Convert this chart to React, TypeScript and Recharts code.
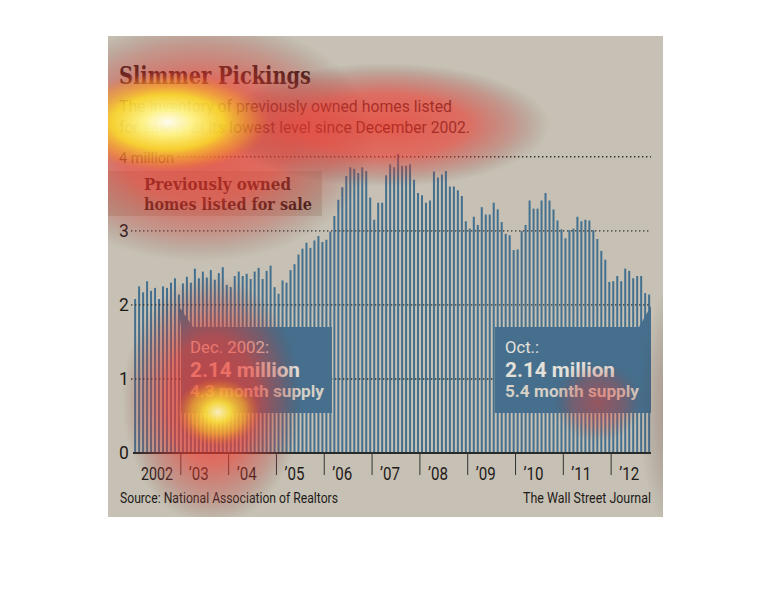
import React from 'react';
import { BarChart, Bar, XAxis, YAxis, ReferenceLine } from 'recharts';

// Previously owned homes listed for sale, millions, monthly Jan 2002 - Oct 2012
const inv2002 = [2.08, 2.25, 2.17, 2.32, 2.19, 2.23, 2.08, 2.25, 2.23, 2.3, 2.36, 2.14];
const inv2003 = [2.29, 2.38, 2.3, 2.49, 2.36, 2.45, 2.37, 2.47, 2.34, 2.43, 2.51, 2.27];
const inv2004 = [2.24, 2.39, 2.45, 2.39, 2.42, 2.35, 2.45, 2.5, 2.35, 2.46, 2.53, 2.24];
const inv2005 = [2.15, 2.33, 2.3, 2.47, 2.55, 2.68, 2.76, 2.84, 2.77, 2.87, 2.93, 2.85];
const inv2006 = [2.88, 2.99, 3.2, 3.42, 3.59, 3.74, 3.86, 3.84, 3.78, 3.86, 3.81, 3.45];
const inv2007 = [3.15, 3.38, 3.38, 3.75, 3.9, 3.86, 4.04, 3.88, 3.88, 3.9, 3.69, 3.51];
const inv2008 = [3.48, 3.38, 3.41, 3.8, 3.72, 3.76, 3.81, 3.6, 3.6, 3.55, 3.47, 3.13];
const inv2009 = [3.03, 3.19, 3.08, 3.32, 3.22, 3.22, 3.38, 3.29, 3.12, 2.96, 2.94, 2.74];
const inv2010 = [2.75, 3.0, 3.08, 3.41, 3.3, 3.3, 3.41, 3.51, 3.41, 3.29, 3.14, 3.02];
const inv2011 = [2.9, 3.01, 3.03, 3.19, 3.13, 3.15, 3.14, 3.01, 2.89, 2.73, 2.61, 2.31];
const inv2012 = [2.32, 2.39, 2.32, 2.49, 2.46, 2.36, 2.39, 2.39, 2.16, 2.14];

const years = [2002, 2003, 2004, 2005, 2006, 2007, 2008, 2009, 2010, 2011, 2012];
const yearLabels = ['2002', '’03', '’04', '’05', '’06', '’07', '’08', '’09', '’10', '’11', '’12'];
const byYear = [inv2002, inv2003, inv2004, inv2005, inv2006, inv2007, inv2008, inv2009, inv2010, inv2011, inv2012];

const yTicks = [0, 1, 2, 3, 4];
const yTickLabels = ['0', '1', '2', '3', '4 million'];

const data = years.flatMap((y, yi) =>
  byYear[yi].map((v, m) => ({ month: `${y}-${String(m + 1).padStart(2, '0')}`, value: v }))
);

const W = 770;
const H = 612;
const PLOT_LEFT = 133;
const PLOT_RIGHT = 651;
const AXIS_Y = 453;
const HALF_BAND = (PLOT_RIGHT - PLOT_LEFT) / data.length / 2;

const BAR = '#44708f';
const BOX = '#456f8d';
const INK = '#1f1b19';
const SANS = 'Roboto, "Noto Sans", sans-serif';
const SERIF = '"DejaVu Serif", serif';

function YearTick(props: any) {
  const { x, payload } = props;
  const yi = years.indexOf(Number(String(payload.value).slice(0, 4)));
  const left = x - HALF_BAND;
  return (
    <g>
      {yi > 0 && <line x1={left} y1={AXIS_Y} x2={left} y2={AXIS_Y + 22} stroke="#333" strokeWidth={1} />}
      <text
        x={left + 8}
        y={AXIS_Y + 27}
        fontFamily={SANS}
        fontSize={18.5}
        fill={INK}
        textLength={yi === 0 ? 32 : 20}
        lengthAdjust="spacingAndGlyphs"
      >
        {yearLabels[yi]}
      </text>
    </g>
  );
}

function ValueTick(props: any) {
  const { y, payload } = props;
  const i = yTicks.indexOf(payload.value);
  const isTop = i === yTicks.length - 1;
  return (
    <text
      x={119}
      y={y + 6}
      fontFamily={SANS}
      fontSize={isTop ? 15.5 : 17.5}
      fill={INK}
      textLength={isTop ? 55 : undefined}
      lengthAdjust="spacingAndGlyphs"
    >
      {yTickLabels[i]}
    </text>
  );
}

const dotted = { stroke: '#303030', strokeWidth: 1.4, strokeDasharray: '1.4 2.6' };

const gridShape = (startX?: number) => (p: any) => (
  <line x1={startX ?? p.x1 - 2} y1={p.y1} x2={p.x2} y2={p.y2} {...dotted} />
);

const heat = [
  { id: 'red', cx: 200, cy: 140, rx: 175, ry: 122 },
  { id: 'red', cx: 385, cy: 125, rx: 165, ry: 62 },
  { id: 'red', cx: 212, cy: 400, rx: 90, ry: 125 },
  { id: 'soft', cx: 598, cy: 402, rx: 45, ry: 40 },
  { id: 'dark', cx: 700, cy: 410, rx: 62, ry: 150 },
  { id: 'yellow', cx: 168, cy: 122, rx: 102, ry: 50 },
  { id: 'yellowSoft', cx: 218, cy: 412, rx: 42, ry: 34 },
];

function Overlay() {
  return (
    <svg width={W} height={H} style={{ position: 'absolute', left: 0, top: 0, pointerEvents: 'none' }}>
      <defs>
        <clipPath id="panel">
          <rect x={108} y={36} width={555} height={481} />
        </clipPath>
        <radialGradient id="red">
          <stop offset="0" stopColor="rgb(240,50,38)" stopOpacity={0.72} />
          <stop offset="0.5" stopColor="rgb(236,58,48)" stopOpacity={0.62} />
          <stop offset="0.78" stopColor="rgb(190,62,56)" stopOpacity={0.32} />
          <stop offset="1" stopColor="rgb(120,60,60)" stopOpacity={0} />
        </radialGradient>
        <radialGradient id="soft">
          <stop offset="0" stopColor="rgb(236,60,50)" stopOpacity={0.5} />
          <stop offset="0.6" stopColor="rgb(210,62,56)" stopOpacity={0.3} />
          <stop offset="1" stopColor="rgb(120,60,60)" stopOpacity={0} />
        </radialGradient>
        <radialGradient id="yellow">
          <stop offset="0" stopColor="rgb(255,255,245)" stopOpacity={0.97} />
          <stop offset="0.25" stopColor="rgb(255,253,140)" stopOpacity={0.93} />
          <stop offset="0.55" stopColor="rgb(252,234,40)" stopOpacity={0.8} />
          <stop offset="0.82" stopColor="rgb(248,170,40)" stopOpacity={0.42} />
          <stop offset="1" stopColor="rgb(240,120,40)" stopOpacity={0} />
        </radialGradient>
        <radialGradient id="yellowSoft">
          <stop offset="0" stopColor="rgb(255,255,200)" stopOpacity={0.9} />
          <stop offset="0.3" stopColor="rgb(255,245,60)" stopOpacity={0.82} />
          <stop offset="0.65" stopColor="rgb(250,200,40)" stopOpacity={0.55} />
          <stop offset="1" stopColor="rgb(240,120,40)" stopOpacity={0} />
        </radialGradient>
        <radialGradient id="dark">
          <stop offset="0" stopColor="rgb(130,50,50)" stopOpacity={0.6} />
          <stop offset="1" stopColor="rgb(80,50,50)" stopOpacity={0} />
        </radialGradient>
      </defs>

      <text x={119} y={84} fontFamily={SERIF} fontWeight="bold" fontSize={25} fill="#2b1712" textLength={192} lengthAdjust="spacingAndGlyphs">
        Slimmer Pickings
      </text>
      <text x={119} y={112} fontFamily={SANS} fontSize={16.5} fill={INK} textLength={333} lengthAdjust="spacingAndGlyphs">
        The inventory of previously owned homes listed
      </text>
      <text x={119} y={133} fontFamily={SANS} fontSize={16.5} fill={INK} textLength={351} lengthAdjust="spacingAndGlyphs">
        for sale is at its lowest level since December 2002.
      </text>

      <rect x={108} y={171} width={214} height={45} fill="#b5ac9b" />
      <text x={144} y={190} fontFamily={SERIF} fontWeight="bold" fontSize={16} fill="#2b1712" textLength={147} lengthAdjust="spacingAndGlyphs">
        Previously owned
      </text>
      <text x={144} y={210} fontFamily={SERIF} fontWeight="bold" fontSize={16} fill="#2b1712" textLength={168} lengthAdjust="spacingAndGlyphs">
        homes listed for sale
      </text>

      <polygon points="178,305 181,327 193,327" fill={BOX} />
      <rect x={181} y={327} width={151} height={86} fill={BOX} />
      <text x={190} y={353} fontFamily={SANS} fontSize={17} fill="#e4e0da" textLength={79} lengthAdjust="spacingAndGlyphs">
        Dec. 2002:
      </text>
      <text x={190} y={377} fontFamily={SANS} fontWeight="bold" fontSize={21} fill="#e4e0da" textLength={110} lengthAdjust="spacingAndGlyphs">
        2.14 million
      </text>
      <text x={190} y={397} fontFamily={SANS} fontWeight="bold" fontSize={16} fill="#d6d0c6" textLength={134} lengthAdjust="spacingAndGlyphs">
        4.3 month supply
      </text>

      <polygon points="651,306 639,327 651,327" fill={BOX} />
      <rect x={495} y={327} width={156} height={86} fill={BOX} />
      <text x={505} y={353} fontFamily={SANS} fontSize={17} fill="#e4e0da" textLength={34} lengthAdjust="spacingAndGlyphs">
        Oct.:
      </text>
      <text x={505} y={377} fontFamily={SANS} fontWeight="bold" fontSize={21} fill="#e4e0da" textLength={110} lengthAdjust="spacingAndGlyphs">
        2.14 million
      </text>
      <text x={505} y={397} fontFamily={SANS} fontWeight="bold" fontSize={16} fill="#d6d0c6" textLength={134} lengthAdjust="spacingAndGlyphs">
        5.4 month supply
      </text>

      <text x={120} y={503} fontFamily={SANS} fontSize={14} fill={INK} textLength={218} lengthAdjust="spacingAndGlyphs">
        Source: National Association of Realtors
      </text>
      <text x={523} y={503} fontFamily={SANS} fontSize={14} fill={INK} textLength={128} lengthAdjust="spacingAndGlyphs">
        The Wall Street Journal
      </text>

      <g clipPath="url(#panel)">
        {heat.map((h, i) => (
          <ellipse key={i} cx={h.cx} cy={h.cy} rx={h.rx} ry={h.ry} fill={`url(#${h.id})`} />
        ))}
      </g>
    </svg>
  );
}

export default function App() {
  return (
    <div style={{ position: 'relative', width: W, height: H, overflow: 'hidden', background: '#fff' }}>
      <style>{'body{margin:0}'}</style>
      <div style={{ position: 'absolute', left: 108, top: 36, width: 555, height: 481, background: '#c6c1b4' }} />
      <div style={{ position: 'absolute', left: 0, top: 0 }}>
        <BarChart
          width={W}
          height={H}
          data={data}
          margin={{ top: 142, right: W - PLOT_RIGHT, bottom: H - AXIS_Y - 30, left: 108 }}
          barCategoryGap="28%"
        >
          <XAxis
            dataKey="month"
            height={30}
            interval={11}
            tickLine={false}
            axisLine={{ stroke: '#2a2a2a', strokeWidth: 2 }}
            tick={(p: any) => <YearTick {...p} />}
          />
          <YAxis
            width={PLOT_LEFT - 108}
            domain={[0, 4.2]}
            ticks={yTicks}
            axisLine={false}
            tickLine={false}
            tick={(p: any) => <ValueTick {...p} />}
          />
          <Bar dataKey="value" fill={BAR} isAnimationActive={false} />
          <ReferenceLine y={1} shape={gridShape()} />
          <ReferenceLine y={2} shape={gridShape()} />
          <ReferenceLine y={3} shape={gridShape()} />
          <ReferenceLine y={4} shape={gridShape(178)} />
        </BarChart>
      </div>
      <Overlay />
    </div>
  );
}
